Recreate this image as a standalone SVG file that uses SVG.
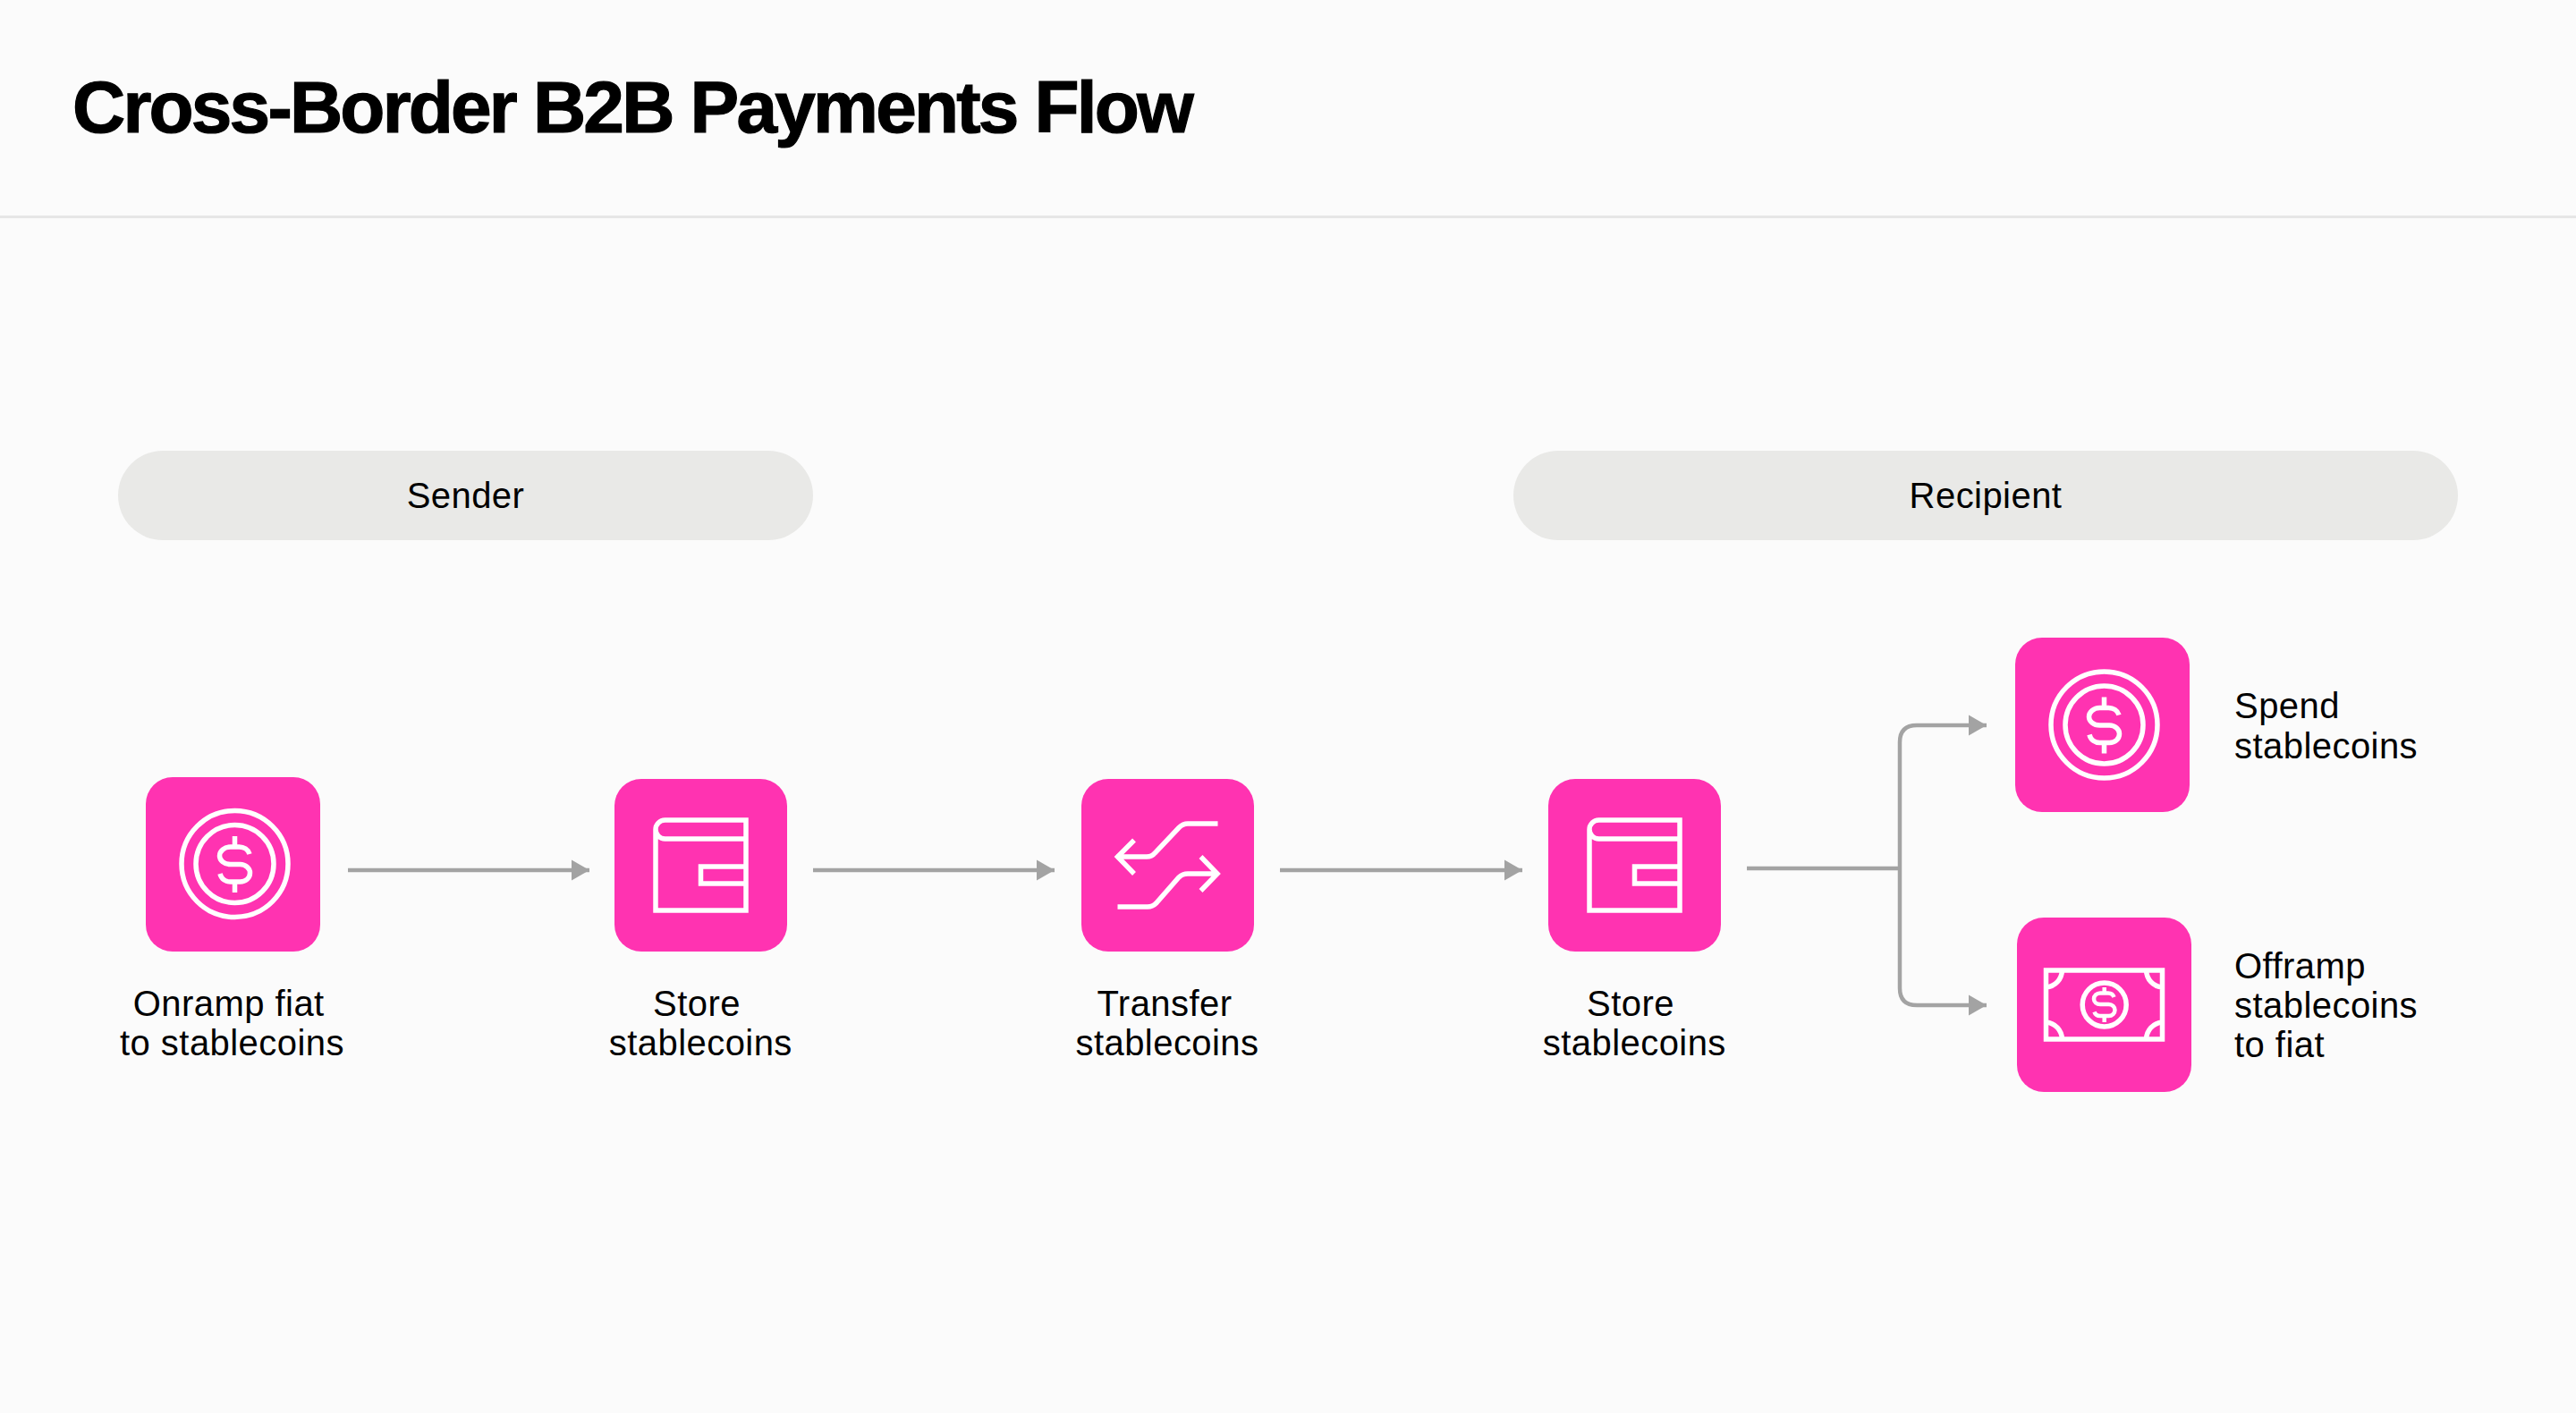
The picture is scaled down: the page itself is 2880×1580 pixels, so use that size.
<svg xmlns="http://www.w3.org/2000/svg" width="2880" height="1580" viewBox="0 0 2880 1580">
<defs>
<style>
text{font-family:"Liberation Sans",Arial,sans-serif;fill:#000}
.t{font-size:40px;letter-spacing:0.45px}
.c{text-anchor:middle}
.title{font-size:82px;font-weight:700;letter-spacing:-2.8px;stroke:#000;stroke-width:1.2px}
.tile{fill:#ff33b1}
.i{fill:none;stroke:#fff;stroke-width:5.5}
.cn{fill:none;stroke:#a3a3a3;stroke-width:4.5}
.pill{fill:#e9e9e7}
</style>
<marker id="ah" markerUnits="userSpaceOnUse" markerWidth="20" markerHeight="24" refX="20" refY="12" orient="auto"><path d="M0 0.5L20 12L0 23.5Z" fill="#a3a3a3"/></marker>
<g id="coin"><circle r="59.5" class="i"/><circle r="43.5" class="i"/><path class="i" d="M0-31V-19M0 20V32M16.5-11C15-16 10-19 5-19H-5C-12-19-17-14-17-9C-17-4-12 .5-5 .5H6C12 .5 17 5 17 10C17 16 12 20 6 20H-5C-10 20-15 17-16.5 11"/></g>
<g id="wallet"><path class="i" d="M-40-50.5H50.5V50.5H-50.5V-40A10.5 10.5 0 0 1-40-50.5M-50.5-40A10.5 10.5 0 0 0-40-29.5H50.5M50.5 1.5H0V20.5H50.5"/></g>
</defs>
<rect width="2880" height="1580" fill="#fbfbfb"/>
<rect y="241" width="2880" height="3" fill="#e6e6e6"/>
<text class="title" x="81" y="147.500">Cross-Border B2B Payments Flow</text>
<g id="group-sender"><rect class="pill" x="132" y="504" width="777" height="100" rx="50"/><text class="t c" x="520.5" y="568">Sender</text></g>
<g id="group-recipient"><rect class="pill" x="1692" y="504" width="1056" height="100" rx="50"/><text class="t c" x="2220" y="568">Recipient</text></g>
<g id="connectors">
<path class="cn" d="M389 973H659" marker-end="url(#ah)"/>
<path class="cn" d="M909 973H1179" marker-end="url(#ah)"/>
<path class="cn" d="M1431 973H1702" marker-end="url(#ah)"/>
<path class="cn" d="M1953 971H2124"/>
<path class="cn" d="M2124 971V830Q2124 811 2143 811H2221" marker-end="url(#ah)"/>
<path class="cn" d="M2124 971V1105Q2124 1124 2143 1124H2221" marker-end="url(#ah)"/>
</g>
<g id="node-onramp"><rect class="tile" x="163" y="869" width="195" height="195" rx="30"/><use href="#coin" x="262.5" y="966"/><text class="t c" x="255.7" y="1136">Onramp fiat</text><text class="t c" x="259.5" y="1180">to stablecoins</text></g>
<g id="node-store-1"><rect class="tile" x="687" y="871" width="193" height="193" rx="30"/><use href="#wallet" x="783.5" y="967.5"/><text class="t c" x="779" y="1136">Store</text><text class="t c" x="783.3" y="1180">stablecoins</text></g>
<g id="node-transfer"><rect class="tile" x="1209" y="871" width="193" height="193" rx="30"/><path class="i" d="M1361.5 921H1328C1324 921 1321 922.5 1318 925.5L1291 954C1289 956.5 1286 958 1282 958H1248M1268 939.5L1249.5 958L1268 977M1249.5 1014H1283C1287 1014 1290 1012.5 1292.5 1010L1318 981C1321 978 1324 977 1328 977H1362M1342.5 958L1361 977L1342.5 996"/><text class="t c" x="1302" y="1136">Transfer</text><text class="t c" x="1305" y="1180">stablecoins</text></g>
<g id="node-store-2"><rect class="tile" x="1731" y="871" width="193" height="193" rx="30"/><use href="#wallet" x="1827.5" y="967.5"/><text class="t c" x="1823" y="1136">Store</text><text class="t c" x="1827.3" y="1180">stablecoins</text></g>
<g id="node-spend"><rect class="tile" x="2253" y="713" width="195" height="195" rx="30"/><use href="#coin" x="2352.5" y="810.5"/><text class="t" x="2498" y="803">Spend</text><text class="t" x="2498" y="847.5">stablecoins</text></g>
<g id="node-offramp"><rect class="tile" x="2255" y="1026" width="195" height="195" rx="30"/><path class="i" d="M2287.5 1085H2417.5V1162H2287.5ZM2287.5 1104C2298 1103 2305 1095 2305.5 1085M2417.5 1104C2407 1103 2400 1095 2399.5 1085M2287.5 1143C2298 1144 2305 1152 2305.5 1162M2417.5 1143C2407 1144 2400 1152 2399.5 1162"/><circle class="i" cx="2352.7" cy="1123.4" r="24.5"/><path class="i" style="stroke-width:4.5" d="M2352.7 1104V1110.5M2352.7 1136V1143M2363.5 1115C2362.5 1112 2360 1110.5 2357 1110.5H2348C2344 1110.5 2341 1113.5 2341 1117C2341 1120.5 2344 1123 2348 1123H2357.5C2361.5 1123 2364.5 1126 2364.5 1129.5C2364.5 1133 2361.5 1136 2357.5 1136H2348C2345 1136 2342.5 1134.5 2341.5 1131.5"/><text class="t" x="2498" y="1094">Offramp</text><text class="t" x="2498" y="1138">stablecoins</text><text class="t" x="2498" y="1182">to fiat</text></g>
</svg>
